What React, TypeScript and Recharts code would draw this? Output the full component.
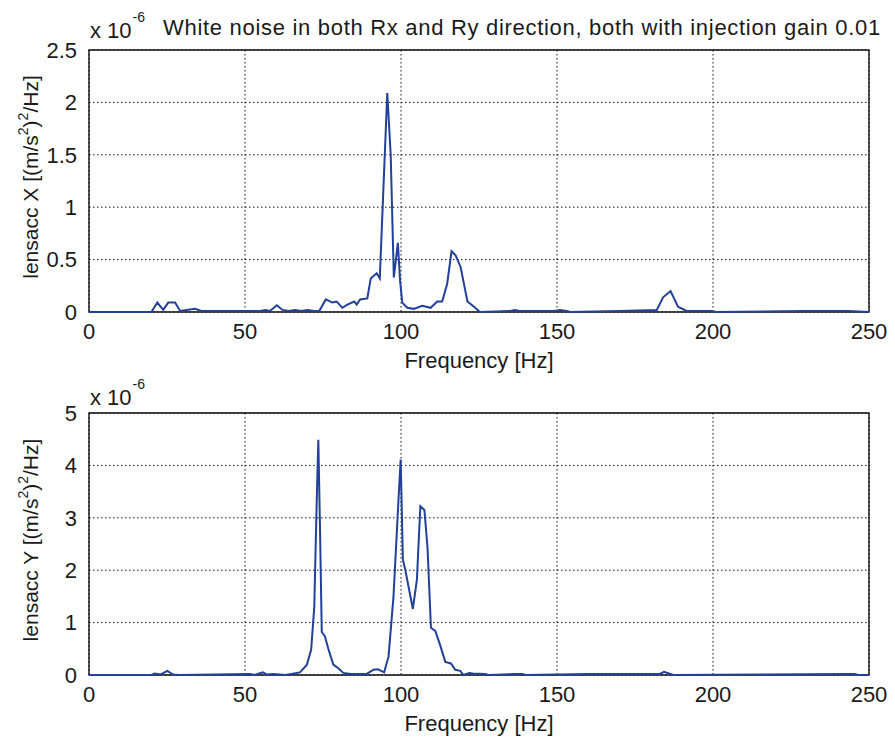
import { CartesianGrid, Line, LineChart, ReferenceArea, XAxis, YAxis } from 'recharts'

const freqX = [0, 20, 21.9, 23.8, 25.4, 27.6, 29.2, 34, 36, 55, 56.5, 58, 60.2, 62, 64, 66, 68, 70, 72, 73.8, 75.9, 78, 79.4, 81.2, 82.8, 85, 85.8, 86.9, 89.2, 90.3, 92.2, 93.2, 95.6, 96.7, 97.7, 99, 99.7, 100.4, 102, 104.1, 106.8, 109.5, 111.6, 113.2, 114.8, 116.2, 117.5, 119.1, 121.3, 123.4, 125.3, 135, 136.5, 138, 149, 151, 153, 154.3, 170, 182, 184, 186.4, 188.8, 191.5, 199.5, 201, 229.5, 243.4, 250]
const psdX = [0, 0, 0.09, 0.02, 0.09, 0.09, 0.01, 0.03, 0.01, 0.01, 0.02, 0.01, 0.065, 0.02, 0.01, 0.02, 0.01, 0.02, 0.01, 0.01, 0.12, 0.09, 0.1, 0.04, 0.07, 0.1, 0.07, 0.12, 0.13, 0.32, 0.37, 0.32, 2.09, 1.5, 0.33, 0.66, 0.3, 0.09, 0.04, 0.03, 0.06, 0.04, 0.1, 0.1, 0.27, 0.58, 0.54, 0.43, 0.1, 0.05, 0, 0.01, 0.02, 0.01, 0.01, 0.02, 0.01, 0, 0.01, 0.02, 0.14, 0.2, 0.05, 0.01, 0.01, 0, 0.01, 0.01, 0]

const freqY = [0, 20, 21.1, 23, 25.1, 27, 29, 51.6, 53, 55.7, 57, 59, 61, 63, 67.6, 69.8, 71.2, 72.2, 73, 73.5, 74.1, 74.6, 75.6, 76.7, 78.3, 79.9, 81.5, 84, 89, 91.2, 92.6, 94.6, 96, 97.6, 99.2, 99.9, 100.6, 101.4, 103.8, 105.1, 106.2, 107.5, 108.5, 109.6, 111, 112.6, 114.2, 116, 117.4, 119, 120, 121.9, 123, 127, 128, 136.5, 139, 140, 160.6, 183, 184.3, 187.3, 242.8, 245.4, 246.5, 250]
const psdY = [0, 0, 0.03, 0.01, 0.08, 0.01, 0, 0.02, 0, 0.05, 0.01, 0.02, 0.01, 0, 0.05, 0.19, 0.48, 1.3, 3.35, 4.49, 2.6, 0.82, 0.74, 0.5, 0.2, 0.13, 0.04, 0.02, 0.02, 0.1, 0.11, 0.05, 0.35, 1.5, 3.35, 4.11, 2.2, 2.0, 1.26, 1.82, 3.22, 3.15, 2.43, 0.9, 0.84, 0.56, 0.25, 0.22, 0.1, 0.08, 0, 0.04, 0.03, 0.02, 0, 0.02, 0.02, 0, 0.02, 0.02, 0.06, 0, 0.02, 0.02, 0, 0]

const xTicks = [0, 50, 100, 150, 200, 250]
const yTicksX = [0, 0.5, 1, 1.5, 2, 2.5]
const yTicksY = [0, 1, 2, 3, 4, 5]

const font = '"Liberation Sans", Arial, sans-serif'
const lineBlue = '#22409c'
const ink = '#1a1a1a'

function yLabel(axis: string) {
  return (props: any) => {
    const vb = props.viewBox
    const cx = vb.x + 32
    const cy = vb.y + vb.height / 2 - 4
    return (
      <text
        x={cx}
        y={cy}
        transform={`rotate(-90, ${cx}, ${cy})`}
        textAnchor="middle"
        dominantBaseline="middle"
        fontSize={21}
        fontFamily={font}
        fill={ink}
      >
        lensacc {axis} [(m/s<tspan baselineShift="super" fontSize={14}>2</tspan>)<tspan baselineShift="super" fontSize={14}>2</tspan>/Hz]
      </text>
    )
  }
}

function PsdPanel({ freq, psd, yTicks, axis }: { freq: number[]; psd: number[]; yTicks: number[]; axis: string }) {
  const data = freq.map((f, i) => ({ f, v: psd[i] }))
  const top = yTicks[yTicks.length - 1]
  return (
    <LineChart width={895} height={382} data={data} margin={{ top: 50, right: 26, bottom: 0, left: 0 }}>
      <CartesianGrid stroke="#111" strokeDasharray="1.5 2.5" />
      <XAxis
        dataKey="f"
        type="number"
        domain={[0, 250]}
        ticks={xTicks}
        tickLine={false}
        axisLine={false}
        height={70}
        tick={{ fontSize: 22, fontFamily: font, fill: ink }}
        tickMargin={5}
        label={{ value: 'Frequency [Hz]', position: 'insideBottom', offset: 14, fontSize: 22, fontFamily: font, fill: ink }}
      />
      <YAxis
        type="number"
        domain={[0, top]}
        ticks={yTicks}
        tickLine={false}
        axisLine={false}
        width={89}
        tick={{ fontSize: 22, fontFamily: font, fill: ink }}
        tickMargin={6}
        label={{ content: yLabel(axis) }}
      />
      <ReferenceArea x1={0} x2={250} y1={0} y2={top} fill="none" stroke="#111" strokeWidth={1.4} />
      <Line dataKey="v" type="linear" dot={false} stroke={lineBlue} strokeWidth={2} isAnimationActive={false} />
    </LineChart>
  )
}

function Exponent({ top, left }: { top: number; left: number }) {
  return (
    <div style={{ position: 'absolute', top, left, fontFamily: font, fontSize: 22, color: ink, whiteSpace: 'nowrap', lineHeight: '24px' }}>
      x 10<sup style={{ fontSize: 14, position: 'relative', top: -8, marginLeft: 1 }}>-6</sup>
    </div>
  )
}

export default function App() {
  return (
    <div style={{ position: 'absolute', top: 0, left: 0, width: 895, height: 745, background: '#fff' }}>
      <div style={{ position: 'absolute', top: 0, left: 0 }}>
        <PsdPanel freq={freqX} psd={psdX} yTicks={yTicksX} axis="X" />
      </div>
      <div style={{ position: 'absolute', top: 363, left: 0 }}>
        <PsdPanel freq={freqY} psd={psdY} yTicks={yTicksY} axis="Y" />
      </div>
      <Exponent top={13} left={90} />
      <div style={{ position: 'absolute', top: 16, left: 163, fontFamily: font, fontSize: 22, lineHeight: '24px', letterSpacing: 0.7, color: ink, whiteSpace: 'nowrap' }}>
        White noise in both Rx and Ry direction, both with injection gain 0.01
      </div>
      <Exponent top={380} left={90} />
    </div>
  )
}
